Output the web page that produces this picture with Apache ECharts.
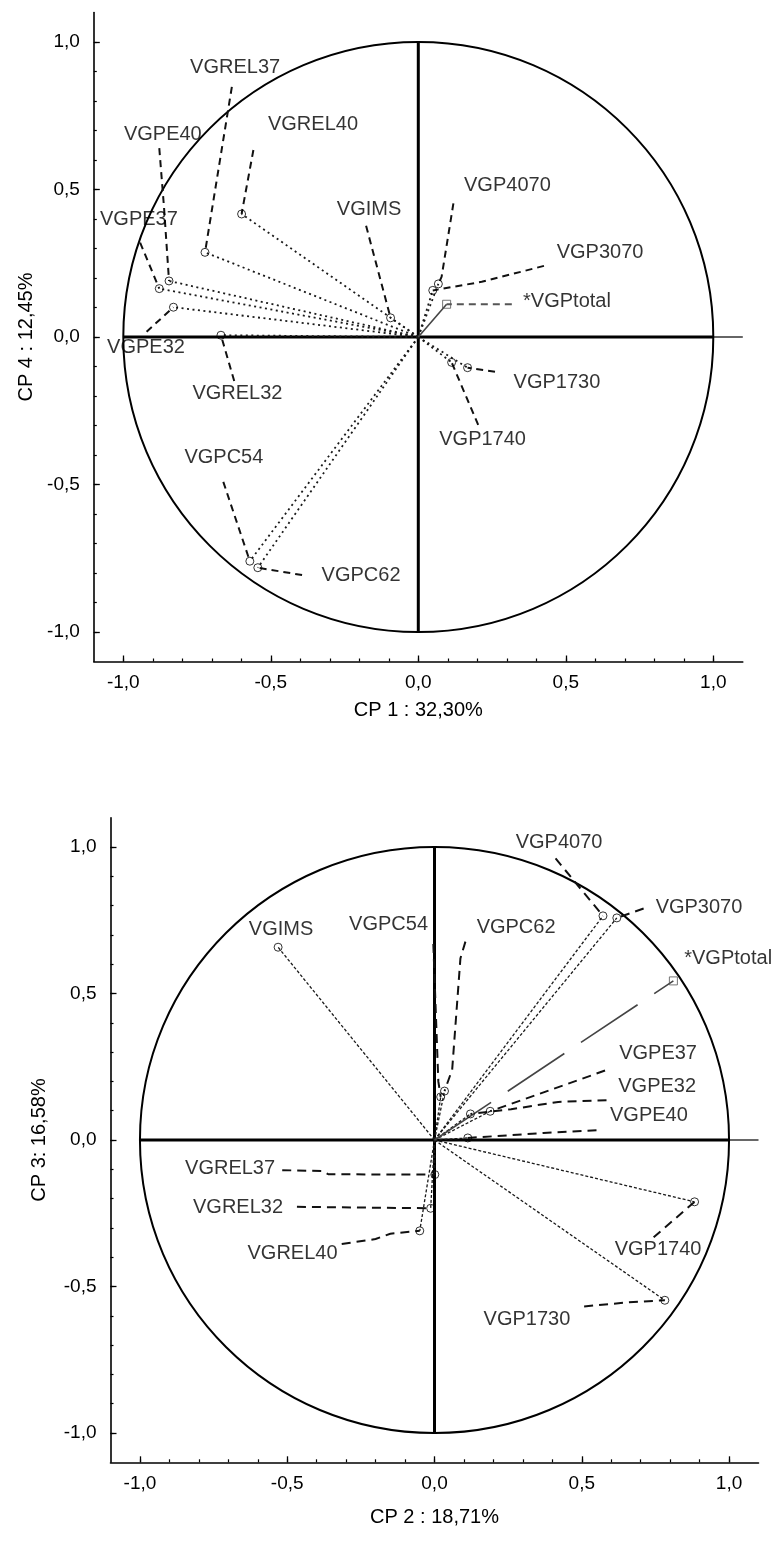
<!DOCTYPE html>
<html><head><meta charset="utf-8">
<script src="https://cdn.jsdelivr.net/npm/echarts@6.0.0/dist/echarts.min.js"></script>
<style>html,body{margin:0;padding:0;background:#fff}#c{width:776px;height:1541px}</style>
</head><body><div id="c"></div>
<script>
// ---------- common ----------
const majorTicks = [-1, -0.5, 0, 0.5, 1];
const minorTicks = [-1, -0.9, -0.8, -0.7, -0.6, -0.5, -0.4, -0.3, -0.2, -0.1, 0, 0.1, 0.2, 0.3, 0.4, 0.5, 0.6, 0.7, 0.8, 0.9, 1];
const axisMin = -1.1, axisMax = 1.1;
const origin = [0, 0];
const unitRadius = 1;
const crossH = [[-1, 0], [1, 0]];
const crossV = [[0, -1], [0, 1]];
const crossExt = [[1, 0], [1.1, 0]];

// ---------- plot 1 : CP 1 x CP 4 ----------
const vars1 = ['VGREL37','VGREL40','VGPE40','VGPE37','VGPE32','VGREL32','VGIMS','VGPC54','VGPC62','VGP4070','VGP3070','VGP1730','VGP1740'];
const cp1 = [-0.723, -0.599, -0.845, -0.878, -0.830, -0.669, -0.094, -0.571, -0.544, 0.068, 0.049, 0.167, 0.113];
const cp4 = [0.287, 0.417, 0.190, 0.164, 0.101, 0.006, 0.065, -0.760, -0.782, 0.180, 0.158, -0.104, -0.086];
const lab1X = [-0.621, -0.357, -0.866, -0.947, -0.923, -0.613, -0.167, -0.659, -0.194, 0.302, 0.616, 0.470, 0.218];
const lab1Y = [0.912, 0.719, 0.688, 0.400, -0.034, -0.193, 0.431, -0.407, -0.807, 0.515, 0.288, -0.153, -0.349];
const leader1 = [
  [[-0.632, 0.848]],
  [[-0.559, 0.634]],
  [[-0.878, 0.640], [-0.862, 0.440]],
  [[-0.943, 0.320]],
  [[-0.921, 0.018]],
  [[-0.624, -0.149]],
  [[-0.177, 0.377]],
  [[-0.661, -0.491]],
  [[-0.394, -0.807]],
  [[0.119, 0.453], [0.079, 0.204]],
  [[0.426, 0.241], [0.215, 0.187]],
  [[0.260, -0.118]],
  [[0.203, -0.298]]
];
const total1 = [0.096, 0.111];
const totalLab1 = [0.504, 0.119];
const totalLeader1 = [[0.317, 0.111]];

// ---------- plot 2 : CP 2 x CP 3 ----------
const vars2 = ['VGIMS','VGPC54','VGPC62','VGP4070','VGP3070','VGPE37','VGPE32','VGPE40','VGREL37','VGREL32','VGREL40','VGP1740','VGP1730'];
const cp2 = [-0.531, 0.021, 0.034, 0.572, 0.619, 0.189, 0.122, 0.113, 0.001, -0.013, -0.050, 0.883, 0.782];
const cp3 = [0.658, 0.147, 0.167, 0.765, 0.758, 0.098, 0.089, 0.007, -0.118, -0.233, -0.310, -0.211, -0.547];
const lab2X = [-0.521, -0.156, 0.277, 0.423, 0.898, 0.759, 0.756, 0.728, -0.694, -0.667, -0.482, 0.759, 0.314];
const lab2Y = [0.720, 0.734, 0.727, 1.014, 0.795, 0.294, 0.184, 0.085, -0.096, -0.229, -0.389, -0.372, -0.611];
const leader2 = [
  [],
  [[-0.004, 0.669], [0.013, 0.200]],
  [[0.105, 0.677], [0.088, 0.620], [0.060, 0.240]],
  [[0.411, 0.961]],
  [[0.710, 0.790]],
  [[0.579, 0.237]],
  [[0.584, 0.136], [0.420, 0.130], [0.260, 0.105]],
  [[0.550, 0.033], [0.370, 0.024]],
  [[-0.517, -0.103], [-0.380, -0.106], [-0.360, -0.117]],
  [[-0.467, -0.228]],
  [[-0.315, -0.355], [-0.200, -0.338], [-0.150, -0.320]],
  [[0.744, -0.332]],
  [[0.508, -0.568], [0.660, -0.554]]
];
const total2 = [0.811, 0.543];
const totalLab2 = [0.997, 0.621];
const totalLeader2 = [];

const totalName = '*VGPtotal';
const axisTitles = { x1: 'CP 1 : 32,30%', y1: 'CP 4 : 12,45%', x2: 'CP 2 : 18,71%', y2: 'CP 3: 16,58%' };

// ---------- build ----------
const FONT = 'Liberation Sans, Arial, sans-serif';
const fmt = v => v.toFixed(1).replace('.', ',');

const grids = [
  { left: 93.8, top: 12.5, width: 649, height: 649 },
  { left: 110.5, top: 817.7, width: 648, height: 644.6 }
];

function axes(dim, gi, name, nameGap) {
  const major = {
    type: 'value', gridIndex: gi, min: axisMin, max: axisMax,
    name: name, nameLocation: 'middle', nameGap: nameGap,
    nameTextStyle: { color: '#000', fontSize: 20, fontFamily: FONT },
    axisLine: { show: true, onZero: false, lineStyle: { color: '#000', width: 1.6 } },
    axisTick: { show: true, inside: true, length: 6, customValues: majorTicks, lineStyle: { color: '#000', width: 1.3 } },
    axisLabel: { show: true, customValues: majorTicks, formatter: fmt, color: '#000', fontSize: 19, fontFamily: FONT, margin: dim === 'x' ? 12 : 14 },
    splitLine: { show: false }
  };
  const minor = {
    type: 'value', gridIndex: gi, min: axisMin, max: axisMax,
    position: dim === 'x' ? 'bottom' : 'left',
    axisLine: { show: false, onZero: false },
    axisTick: { show: true, inside: true, length: 3, customValues: minorTicks, lineStyle: { color: '#000', width: 1.2 } },
    axisLabel: { show: false },
    splitLine: { show: false }
  };
  major.position = dim === 'x' ? 'bottom' : 'left';
  return [major, minor];
}

const xAxis = [...axes('x', 0, axisTitles.x1, 39), ...axes('x', 1, axisTitles.x2, 45)];
const yAxis = [...axes('y', 0, axisTitles.y1, 54), ...axes('y', 1, axisTitles.y2, 61)];

function plotSeries(k, names, xs, ys, lx, ly, leaders, total, totalLab, totalLeader, radialDash, radialWidth, leaderDash, totalDash) {
  const ax = { xAxisIndex: 2 * k, yAxisIndex: 2 * k };
  const s = [];
  // unit circle
  s.push(Object.assign({
    type: 'custom', coordinateSystem: 'cartesian2d', silent: true, z: 2,
    data: [[origin[0], origin[1], unitRadius]],
    renderItem: (params, api) => {
      const c = api.coord([api.value(0), api.value(1)]);
      const sz = api.size([api.value(2), api.value(2)]);
      return { type: 'ellipse', shape: { cx: c[0], cy: c[1], rx: sz[0], ry: sz[1] },
               style: { fill: 'none', stroke: '#000', lineWidth: 2 } };
    }
  }, ax));
  // cross lines
  s.push(Object.assign({ type: 'lines', coordinateSystem: 'cartesian2d', polyline: true, silent: true, z: 3,
    lineStyle: { color: '#000', width: 3, opacity: 1 },
    data: [{ coords: crossH }, { coords: crossV }] }, ax));
  s.push(Object.assign({ type: 'lines', coordinateSystem: 'cartesian2d', polyline: true, silent: true, z: 3,
    lineStyle: { color: '#000', width: 1.2, opacity: 1 },
    data: [{ coords: crossExt }] }, ax));
  // radial vectors
  s.push(Object.assign({ type: 'lines', coordinateSystem: 'cartesian2d', polyline: true, silent: true, z: 4,
    lineStyle: { color: '#1a1a1a', width: radialWidth, type: radialDash, opacity: 1 },
    data: names.map((n, i) => ({ coords: [origin, [xs[i], ys[i]]] })) }, ax));
  // total vector
  s.push(Object.assign({ type: 'lines', coordinateSystem: 'cartesian2d', polyline: true, silent: true, z: 4,
    lineStyle: { color: '#444', width: 1.6, type: totalDash, opacity: 1 },
    data: [{ coords: [origin, total] }] }, ax));
  // leaders
  s.push(Object.assign({ type: 'lines', coordinateSystem: 'cartesian2d', polyline: true, silent: true, z: 4,
    lineStyle: { color: '#111', width: 2, type: leaderDash, opacity: 1 },
    data: leaders.map((L, i) => ({ coords: L.concat([[xs[i], ys[i]]]) })).filter(d => d.coords.length > 1) }, ax));
  if (totalLeader.length) {
    s.push(Object.assign({ type: 'lines', coordinateSystem: 'cartesian2d', polyline: true, silent: true, z: 4,
      lineStyle: { color: '#555', width: 2, type: leaderDash, opacity: 1 },
      data: [{ coords: totalLeader.concat([total]) }] }, ax));
  }
  // points
  s.push(Object.assign({ type: 'scatter', silent: true, z: 5, symbol: 'circle', symbolSize: 8,
    itemStyle: { color: 'rgba(255,255,255,0)', borderColor: '#000', borderWidth: 1 },
    data: names.map((n, i) => [xs[i], ys[i]]) }, ax));
  s.push(Object.assign({ type: 'scatter', silent: true, z: 5, symbol: 'rect', symbolSize: 8,
    itemStyle: { color: 'rgba(255,255,255,0)', borderColor: '#555', borderWidth: 1 },
    data: [total] }, ax));
  // labels
  s.push(Object.assign({ type: 'scatter', silent: true, z: 6, symbolSize: 1,
    itemStyle: { color: 'rgba(0,0,0,0)' },
    label: { show: true, position: 'inside', formatter: '{b}', color: '#000', fontSize: 20, fontFamily: FONT },
    data: names.map((n, i) => ({ name: n, value: [lx[i], ly[i]] })).concat([{ name: totalName, value: totalLab }]) }, ax));
  return s;
}

const series = [
  ...plotSeries(0, vars1, cp1, cp4, lab1X, lab1Y, leader1, total1, totalLab1, totalLeader1, [2, 3.5], 1.8, [7, 5], [68, 20]),
  ...plotSeries(1, vars2, cp2, cp3, lab2X, lab2Y, leader2, total2, totalLab2, totalLeader2, [3, 2], 1.3, [9, 6], [68, 20])
];

const chart = echarts.init(document.getElementById('c'), null, { renderer: 'canvas' });
chart.setOption({
  backgroundColor: '#fff',
  animation: false,
  grid: grids,
  xAxis: xAxis,
  yAxis: yAxis,
  series: series
});
</script></body></html>
